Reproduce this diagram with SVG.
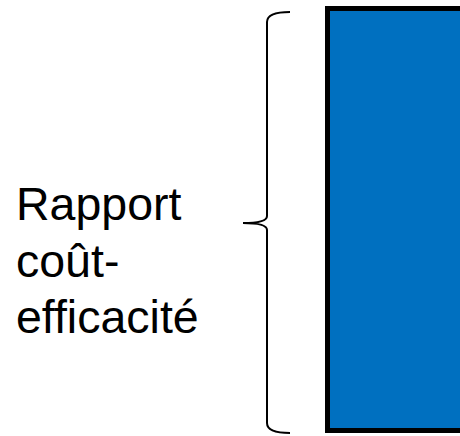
<svg xmlns="http://www.w3.org/2000/svg" width="460" height="436" viewBox="0 0 460 436">
<style>
.lbl{font-family:"Liberation Sans",Arial,sans-serif;font-size:46.5px;fill:#000}
.brace{fill:none;stroke:#000;stroke-width:2}
</style>
<rect width="460" height="436" fill="#fff"/>
<g id="bar">
<rect x="327.5" y="8.5" width="140" height="422" fill="#0070C0" stroke="#000" stroke-width="5"/>
</g>
<g id="connectors">
<path class="brace" d="M290,12 Q267,12 267,22 L267,216 Q267,223 243,223 Q267,223 267,230 L267,423 Q267,433 290,433"/>
</g>
<g id="label">
<text class="lbl" x="16" y="220">Rapport</text>
<text class="lbl" x="16" y="277">coût-</text>
<text class="lbl" x="16" y="333">efficacité</text>
</g>
</svg>
